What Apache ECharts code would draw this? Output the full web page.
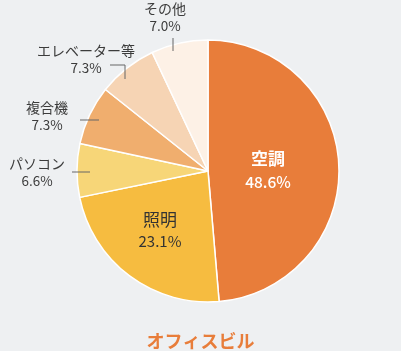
<!DOCTYPE html>
<html>
<head>
<meta charset="utf-8">
<script src="https://cdn.jsdelivr.net/npm/echarts@6/dist/echarts.min.js"></script>
<style>
html,body{margin:0;padding:0;background:#eef0f2;}
#chart{width:401px;height:351px;}
</style>
</head>
<body>
<div id="chart"></div>
<script>
// 用途別エネルギー消費 (オフィスビル)
const categories = ['空調', '照明', 'パソコン', '複合機', 'エレベーター等', 'その他']
const shares = [48.6, 23.1, 6.6, 7.3, 7.3, 7.0]
const colors = ['#e87d3a', '#f6bc40', '#f7d678', '#f0ae6e', '#f6d4b4', '#fdf1e6']
const title = 'オフィスビル'

// label positions (center of text block) and leader lines
const labelPos = [
  { x: 268, y: 170 },
  { x: 160, y: 230 },
  { x: 37, y: 172 },
  { x: 47, y: 116 },
  { x: 86, y: 59 },
  { x: 165, y: 17 }
]
const linePts = [
  null,
  null,
  [[72, 172], [90, 172]],
  [[80, 120], [99, 120]],
  [[110, 65], [125, 65], [125, 79]],
  [[173, 38], [173, 51]]
]

const mychart = echarts.init(document.getElementById('chart'))

const data = categories.map((name, i) => {
  const item = {
    name: name,
    value: shares[i],
    itemStyle: { color: colors[i] }
  }
  if (i === 0) {
    item.label = { rich: {
      n: { color: '#fff', fontSize: 17, fontWeight: 'bold', lineHeight: 24, fontFamily: 'Noto Sans CJK JP' },
      p: { color: '#fff', fontSize: 15.5, fontWeight: 500, lineHeight: 22, fontFamily: 'Noto Sans CJK JP' }
    } }
  } else if (i === 1) {
    item.label = { rich: {
      n: { color: '#333', fontSize: 17, lineHeight: 22, fontFamily: 'Noto Sans CJK JP' },
      p: { color: '#333', fontSize: 15, lineHeight: 20, fontFamily: 'Noto Sans CJK JP' }
    } }
  }
  return item
})

const lines = linePts.filter(p => p).map(p => ({
  type: 'polyline',
  z: 100,
  shape: { points: p },
  style: { stroke: '#666', lineWidth: 1, fill: null }
}))

const option = {
  backgroundColor: '#eef0f2',
  animation: false,
  title: {
    text: title,
    left: 'center',
    top: 327,
    textStyle: { color: '#e87d3a', fontSize: 18, fontWeight: 'bold', fontFamily: 'Noto Sans CJK JP' }
  },
  graphic: lines,
  series: [{
    type: 'pie',
    center: [208, 171],
    radius: [0, 131],
    startAngle: 90,
    clockwise: true,
    avoidLabelOverlap: false,
    itemStyle: { borderColor: '#ffffff', borderWidth: 1.5 },
    label: {
      show: true,
      position: 'outside',
      align: 'center',
      formatter: p => '{n|' + p.name + '}\n{p|' + p.value.toFixed(1) + '%}',
      rich: {
        n: { color: '#3c3c3c', fontSize: 14, lineHeight: 17, fontFamily: 'Noto Sans CJK JP' },
        p: { color: '#3c3c3c', fontSize: 13.5, lineHeight: 17, fontFamily: 'Noto Sans CJK JP' }
      }
    },
    labelLine: { show: false },
    labelLayout: function (params) {
      const i = params.dataIndex
      return {
        x: labelPos[i].x,
        y: labelPos[i].y,
        align: 'center',
        verticalAlign: 'middle'
      }
    },
    data: data
  }]
}
mychart.setOption(option, true)
</script>
</body>
</html>
